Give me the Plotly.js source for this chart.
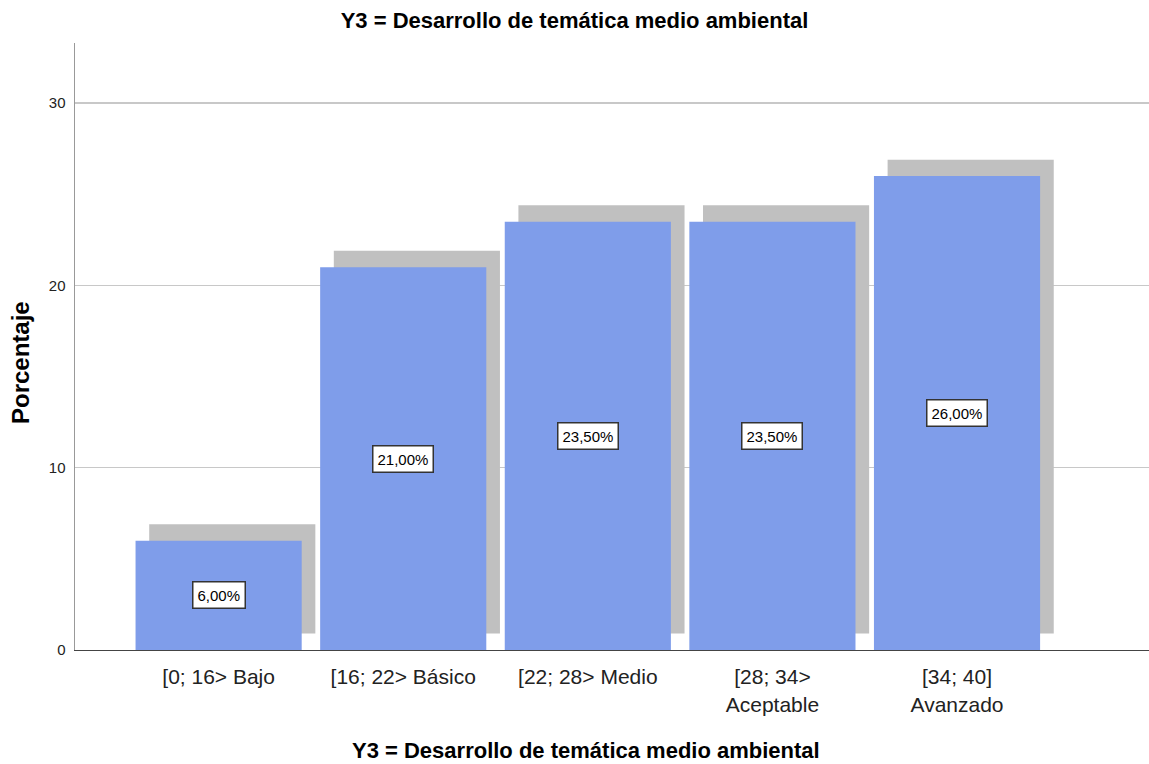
<!DOCTYPE html>
<html>
<head>
<meta charset="utf-8">
<script src="https://cdn.plot.ly/plotly-3.0.1.min.js"></script>
<style>html,body{margin:0;padding:0;background:#fff;}#chart{width:1149px;height:764px;}</style>
</head>
<body>
<div id="chart"></div>
<script>
const categories = ["[0; 16> Bajo", "[16; 22> Básico", "[22; 28> Medio", "[28; 34><br>Aceptable", "[34; 40]<br>Avanzado"];
const percentages = [6.0, 21.0, 23.5, 23.5, 26.0];
const yTickVals = [0, 10, 20, 30];
const chartTitle = 'Y3 = Desarrollo de temática medio ambiental';
const xTitle = 'Y3 = Desarrollo de temática medio ambiental';
const yTitle = 'Porcentaje';

const xs = categories.map((c, i) => i);
const shadowDx = 0.074;
const shadowBase = 0.9;
const barWidth = 0.9;
const font = "Liberation Sans, Arial, sans-serif";

const shadow = {
  type: 'bar', x: xs.map(v => v + shadowDx), y: percentages,
  base: percentages.map(() => shadowBase), width: barWidth,
  marker: {color: '#c0c0c0', line: {width: 0}}, hoverinfo: 'skip', showlegend: false
};
const bars = {
  type: 'bar', x: xs, y: percentages, width: barWidth,
  marker: {color: '#7f9dea', line: {width: 0}}, showlegend: false
};

const annotations = percentages.map((v, i) => ({
  x: xs[i], y: v / 2, xref: 'x', yref: 'y', showarrow: false,
  text: v.toFixed(2).replace('.', ',') + '%',
  font: {family: font, size: 15, color: '#000'},
  bgcolor: '#ffffff', bordercolor: '#333', borderwidth: 1.5, borderpad: 4
}));
annotations.push({
  xref: 'paper', yref: 'paper', x: (20 - 75) / 1074, y: (650 - 363) / 607,
  xanchor: 'center', yanchor: 'middle', showarrow: false, textangle: -90,
  text: yTitle, font: {family: font, size: 24, color: '#000', weight: 'bold'}
});
annotations.push({
  xref: 'paper', yref: 'paper', x: (586 - 75) / 1074, y: (650 - 750) / 607,
  xanchor: 'center', yanchor: 'middle', showarrow: false,
  text: xTitle, font: {family: font, size: 22, color: '#000', weight: 'bold'}
});

const layout = {
  width: 1149, height: 764,
  margin: {l: 75, r: 0, t: 43, b: 114},
  paper_bgcolor: '#fff', plot_bgcolor: '#fff',
  barmode: 'overlay',
  title: {text: chartTitle, font: {family: font, size: 22, color: '#000', weight: 'bold'}, x: 0.5, xanchor: 'center', y: 1 - 20 / 764, yanchor: 'middle'},
  xaxis: {
    range: [-0.778, 5.04], tickvals: xs, ticktext: categories,
    showgrid: false, zeroline: false, showline: true, linecolor: '#444', linewidth: 1,
    ticks: '', ticklabelstandoff: 8, tickfont: {family: font, size: 21, color: '#222'}
  },
  yaxis: {
    range: [0, 33.3], tickvals: yTickVals, showgrid: true, gridcolor: '#c8c8c8', gridwidth: 1.5,
    zeroline: false, showline: true, linecolor: '#999', linewidth: 1.5, ticks: '',
    ticklabelstandoff: 5, tickfont: {family: font, size: 15, color: '#222'}
  },
  annotations: annotations
};

Plotly.newPlot('chart', [shadow, bars], layout, {displayModeBar: false, staticPlot: true});
</script>
</body>
</html>
